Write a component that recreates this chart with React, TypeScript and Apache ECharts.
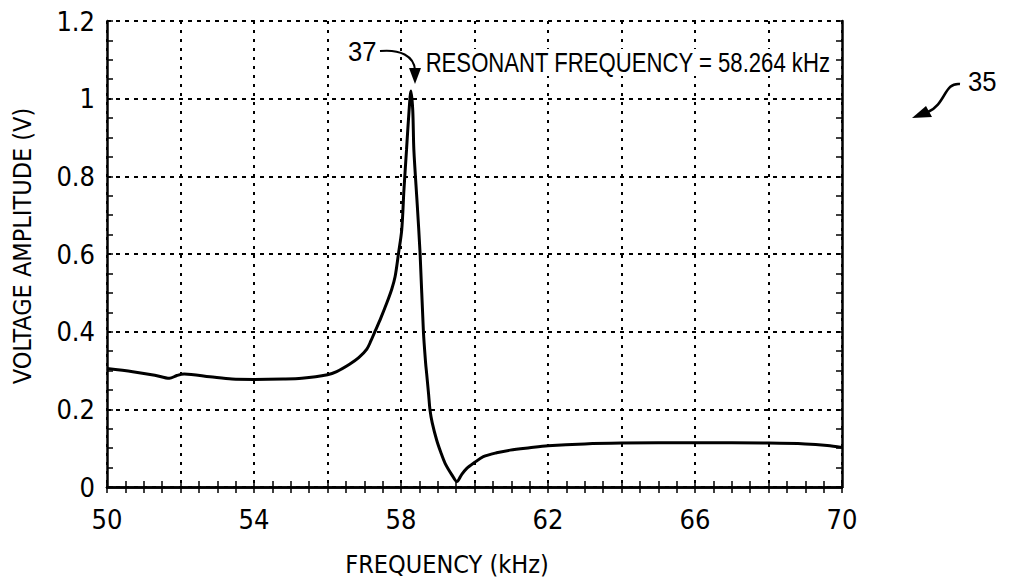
import React, { useEffect, useRef } from "react";
import * as echarts from "echarts";

const freqKHz = [50.0, 50.7, 51.3, 51.7, 51.9, 52.1, 52.8, 53.4, 54.0, 54.8, 55.3, 56.0, 56.25, 56.6, 56.85, 57.07, 57.18, 57.29, 57.45, 57.61, 57.75, 57.84, 57.93, 58.02, 58.08, 58.15, 58.22, 58.27, 58.32, 58.35, 58.44, 58.52, 58.61, 58.67, 58.7, 58.75, 58.79, 58.85, 58.97, 59.08, 59.2, 59.38, 59.52, 59.65, 59.79, 60.0, 60.24, 60.6, 60.97, 61.5, 62.0, 63.0, 64.0, 66.0, 68.0, 69.0, 69.6, 70.0];
const voltage = [0.305, 0.297, 0.288, 0.280, 0.287, 0.291, 0.284, 0.278, 0.277, 0.278, 0.280, 0.289, 0.297, 0.316, 0.333, 0.355, 0.376, 0.400, 0.435, 0.473, 0.51, 0.542, 0.600, 0.662, 0.765, 0.868, 0.97, 1.02, 0.97, 0.868, 0.73, 0.600, 0.400, 0.319, 0.29, 0.24, 0.198, 0.165, 0.121, 0.09, 0.061, 0.032, 0.014, 0.032, 0.048, 0.063, 0.078, 0.088, 0.095, 0.101, 0.106, 0.111, 0.113, 0.114, 0.113, 0.111, 0.107, 0.102];
const xLabelValues = [50, 54, 58, 62, 66, 70];
const xAxisTitle = "FREQUENCY (kHz)";
const yAxisTitle = "VOLTAGE AMPLITUDE (V)";
const peakNote = "RESONANT FREQUENCY = 58.264 kHz";
const peakRef = "37";
const figRef = "35";

const FONT = "'DejaVu Sans Condensed', 'Liberation Sans', Arial, sans-serif";
const NOTE_FONT = "'Liberation Sans', Arial, sans-serif";

export default function App() {
  const ref = useRef<HTMLDivElement>(null);
  useEffect(() => {
    document.body.style.margin = "0";
    const chart = echarts.init(ref.current!, null, { renderer: "svg" });
    const axisCommon = {
      axisLine: { show: true, lineStyle: { color: "#000", width: 2.5 } },
      axisTick: { show: true, inside: true, length: 6, lineStyle: { color: "#000", width: 1.5 } },
      minorTick: { show: true, splitNumber: 4, length: 6, lineStyle: { color: "#000", width: 1.5 } },
    };
    const gridLine = (dash: number[]) => ({ show: true, lineStyle: { color: "#000", width: 2, type: dash } });
    const data = freqKHz.map((f, i) => [f, voltage[i]]);
    const noteStyle = { fontSize: 27, fontFamily: NOTE_FONT, fill: "#000" };
    chart.setOption({
      animation: false,
      backgroundColor: "#fff",
      textStyle: { fontFamily: FONT },
      grid: { left: 107, right: 169, top: 21, bottom: 97, outerBoundsMode: "none", containLabel: false },
      xAxis: [
        {
          ...axisCommon,
          type: "value",
          position: "bottom",
          min: 50,
          max: 70,
          interval: 2,
          splitLine: gridLine([3, 6]),
          axisLabel: {
            color: "#000",
            fontSize: 27,
            fontFamily: FONT,
            margin: 19,
            formatter: (v: number) => (xLabelValues.includes(v) ? String(v) : ""),
          },
          name: xAxisTitle,
          nameLocation: "middle",
          nameGap: 65,
          nameTextStyle: { color: "#000", fontSize: 25, fontFamily: FONT, padding: [0, 55, 0, 0] },
        },
        {
          ...axisCommon,
          type: "value",
          position: "top",
          min: 50,
          max: 70,
          interval: 2,
          splitLine: { show: false },
          axisLabel: { show: false },
        },
      ],
      yAxis: [
        {
          ...axisCommon,
          type: "value",
          position: "left",
          min: 0,
          max: 1.2,
          interval: 0.2,
          splitLine: gridLine([4, 5]),
          axisLabel: { color: "#000", fontSize: 27, fontFamily: FONT, margin: 12 },
          name: yAxisTitle,
          nameLocation: "middle",
          nameGap: 72,
          nameTextStyle: { color: "#000", fontSize: 25, fontFamily: FONT, padding: [0, 0, 0, 16] },
        },
        {
          ...axisCommon,
          type: "value",
          position: "right",
          min: 0,
          max: 1.2,
          interval: 0.2,
          splitLine: { show: false },
          axisLabel: { show: false },
        },
      ],
      series: [
        {
          type: "line",
          data,
          xAxisIndex: 0,
          yAxisIndex: 0,
          showSymbol: false,
          smooth: 0.3,
          lineStyle: { color: "#000", width: 3 },
          z: 5,
        },
      ],
      graphic: [
        { type: "text", x: 348, y: 38, scaleX: 0.95, style: { text: peakRef, ...noteStyle } },
        {
          type: "bezierCurve",
          shape: { x1: 380, y1: 51, cpx1: 400, cpy1: 49, cpx2: 414, cpy2: 56, x2: 415, y2: 70 },
          style: { stroke: "#000", lineWidth: 2, fill: "none" },
        },
        { type: "polygon", shape: { points: [[409, 68], [421, 68], [415, 84]] }, style: { fill: "#000" } },
        {
          type: "text",
          x: 424,
          y: 49,
          scaleX: 0.82,
          z: 10,
          style: { text: peakNote, ...noteStyle, backgroundColor: "#fff", padding: [0, 2, 0, 2] },
        },
        { type: "text", x: 968, y: 68, scaleX: 0.95, style: { text: figRef, ...noteStyle } },
        {
          type: "bezierCurve",
          shape: { x1: 960, y1: 84, cpx1: 944, cpy1: 82, cpx2: 946, cpy2: 104, x2: 928, y2: 112 },
          style: { stroke: "#000", lineWidth: 2.5, fill: "none" },
        },
        { type: "polygon", shape: { points: [[912, 118], [926, 106], [932, 117]] }, style: { fill: "#000" } },
      ],
    });
    return () => chart.dispose();
  }, []);
  return <div ref={ref} style={{ width: 1011, height: 584 }} />;
}
